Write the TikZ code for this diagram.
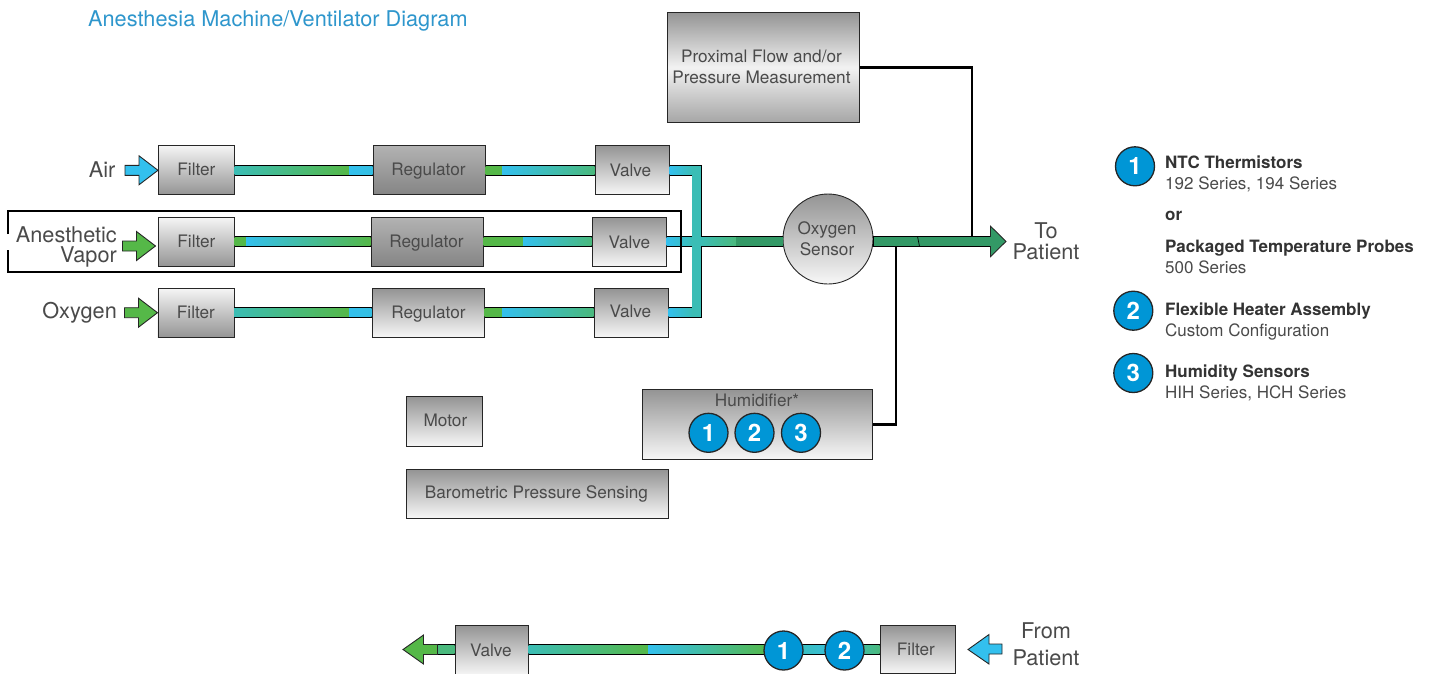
\documentclass[tikz,border=0pt]{standalone}
\usepackage{fontspec}
\setmainfont{TeX Gyre Heros}
\usetikzlibrary{calc}
\definecolor{txt}{HTML}{4A4A4A}
\definecolor{boldtxt}{HTML}{333333}
\definecolor{titleblue}{HTML}{2E96CC}
\definecolor{pgreen}{HTML}{55B848}
\definecolor{pblue}{HTML}{33C0EE}
\definecolor{pteal}{HTML}{3BBDB5}
\definecolor{pdark}{HTML}{339966}
\definecolor{pmid}{HTML}{4AB97D}
\definecolor{badge}{HTML}{0096D6}
\tikzset{
  x=1pt,y=-1pt,
  box/.style={draw=black!85,line width=.9pt,inner sep=0pt,anchor=north west},
  boxtext/.style={inner sep=0pt,align=center,text=txt,font=\fontsize{17.2}{21}\selectfont},
  darklight/.style={box,top color=black!42,bottom color=black!3},
  lightdark/.style={box,top color=black!4,bottom color=black!42},
  regdark/.style={box,top color=black!30,bottom color=black!48},
  proxbox/.style={box,top color=black!42,bottom color=black!35,middle color=black!5},
  pipeedge/.style={draw=black,line width=10.6pt},
  wire/.style={draw=black,line width=2.2pt},
  num/.style={circle,draw=black!85,line width=1.3pt,fill=badge,text=white,minimum size=39pt,inner sep=0pt,font=\fontsize{24}{24}\selectfont\bfseries},
  lab/.style={text=txt,font=\fontsize{21.7}{22}\selectfont,inner sep=0pt},
  leghead/.style={text=boldtxt,font=\fontsize{17}{18}\selectfont\bfseries,inner sep=0pt,anchor=base west},
  legsub/.style={text=txt,font=\fontsize{17}{18}\selectfont,inner sep=0pt,anchor=base west},
}
% \seg{x1}{x2}{y}{left colour}{right colour}
\newcommand{\seg}[5]{\shade[left color=#4,right color=#5] (#1,#3-4.2) rectangle (#2,#3+4.2);}
\newcommand{\arrowR}[3]{\draw[draw=black!85,line width=.9pt,fill=#3] (#1-33,#2-5) -- (#1-19,#2-5) -- (#1-19,#2-14.5) -- (#1,#2) -- (#1-19,#2+14.5) -- (#1-19,#2+5) -- (#1-33,#2+5) -- cycle;}
% \boxn{style}{name}{text}{x1}{x2}{y1}{y2}{dx}{dy}
\newcommand{\boxn}[9]{\node[#1,minimum width=#5pt-#4pt,minimum height=#7pt-#6pt] (#2) at (#4,#6) {};
  \node[boxtext] (#2t) at ($(#2.center)+(#8,#9)$) {#3};}
\begin{document}
\begin{tikzpicture}
\useasboundingbox (0,0) rectangle (1431,673);
\clip (0,0) rectangle (1431,673);
\node[anchor=base west,inner sep=0pt,text=titleblue,font=\fontsize{21.7}{22}\selectfont] (title) at (88,26.5) {Anesthesia Machine/Ventilator Diagram};

% boxes
\boxn{lightdark}{f1}{Filter}{158}{234}{145}{194}{0}{-1}
\boxn{regdark}{r1}{Regulator}{373}{485}{145}{194}{-1}{1}
\boxn{darklight}{v1}{Valve}{595}{669}{145}{194}{-2}{0}
\boxn{lightdark}{f2}{Filter}{158}{234}{217}{266}{0}{-1}
\boxn{regdark}{r2}{Regulator}{371}{483}{217}{266}{-1}{1}
\boxn{darklight}{v2}{Valve}{592}{666}{217}{266}{0}{0}
\boxn{lightdark}{f3}{Filter}{157.5}{233.5}{288}{337}{0}{-1}
\boxn{darklight}{r3}{Regulator}{372}{484}{288}{337}{0}{1}
\boxn{darklight}{v3}{Valve}{594}{668}{288}{337}{-1}{-2}
\boxn{proxbox}{prox}{Proximal Flow and/or\\Pressure Measurement}{667}{859}{12}{122}{-2}{-1}
\boxn{darklight}{motor}{Motor}{406}{482}{396}{446}{1}{-1}
\boxn{darklight}{baro}{Barometric Pressure Sensing}{406}{668}{469}{518}{-1}{0}
\boxn{darklight}{hum}{}{642}{872}{389}{459}{0}{0}
\boxn{darklight}{vout}{Valve}{455}{528}{625}{675}{-1}{0}
\boxn{darklight}{fout}{Filter}{880}{955}{625}{673}{-2}{0}
\node[circle,draw=black!85,line width=.9pt,top color=black!42,bottom color=black!3,minimum size=90pt,inner sep=0pt] (sensor) at (828,239) {};
\node[boxtext] (sensort) at (827,239) {Oxygen\\Sensor};
\node[boxtext] (humlab) at (757,400) {Humidifier*};

% row 1 pipes
\draw[pipeedge] (f1.east |- 0,170.3) -- (r1.west |- 0,170.3);
\draw[pipeedge] (r1.east |- 0,170.3) -- (v1.west |- 0,170.3);
\seg{234.5}{349}{170.3}{pteal}{pgreen}
\seg{349}{372.5}{170.3}{pblue}{pblue!80!pteal}
\seg{485.5}{502}{170.3}{pgreen}{pgreen}
\seg{502}{594.5}{170.3}{pblue}{pmid}
% row 2 pipes
\draw[pipeedge] (f2.east |- 0,241.4) -- (r2.west |- 0,241.4);
\draw[pipeedge] (r2.east |- 0,241.4) -- (v2.west |- 0,241.4);
\seg{234.5}{246}{241.4}{pgreen}{pgreen}
\seg{246}{370.5}{241.4}{pblue}{pgreen}
\seg{483.5}{523}{241.4}{pgreen}{pgreen}
\seg{523}{591.5}{241.4}{pblue}{pmid}
% row 3 pipes
\draw[pipeedge] (f3.east |- 0,312.7) -- (r3.west |- 0,312.7);
\draw[pipeedge] (r3.east |- 0,312.7) -- (v3.west |- 0,312.7);
\seg{234}{349}{312.7}{pteal}{pgreen}
\seg{349}{371.5}{312.7}{pblue}{pblue!80!pteal}
\seg{484.5}{502}{312.7}{pgreen}{pgreen}
\seg{502}{593.5}{312.7}{pblue}{pmid}

% manifold
\coordinate (mtop) at (697,170.3);
\coordinate (mbot) at (697,312.7);
\draw[pipeedge,line join=miter] (v1.east |- mtop) -- (mtop) -- (mbot) -- (v3.east |- mbot);
\draw[pipeedge] (v2.east |- 0,241.4) -- (sensor.west |- 0,241.4);
\seg{669.5}{692.5}{170.3}{pblue}{pteal}
\seg{668.5}{692.5}{312.7}{pblue}{pteal}
\seg{666.5}{692.5}{241.4}{pblue}{pteal}
\fill[pteal] (692.2,166.1) rectangle (701.4,316.9);
\seg{701}{736}{241.4}{pteal}{pmid}
\seg{736}{783}{241.4}{pdark}{pdark}

% vapour frame
\coordinate (fa) at (8,234);
\coordinate (fb) at (681,211);
\coordinate (fc) at (8,272);
\coordinate (fd) at (8,250);
\draw[draw=black,line width=2.6pt] (fa) |- (fb) |- (fc) -- (fd);

% output arrow
\coordinate (ptip) at (1006,241.4);
\draw[pipeedge] (sensor.east |- ptip) -- (991,241.4);
\fill[pdark] (873.5,237.2) rectangle (992,245.6);
\draw[draw=black!85,line width=.9pt,fill=pdark] (990.5,236.6) -- (990.5,226.2) -- (ptip) -- (990.5,256.6) -- (990.5,246.2);
\fill[pdark] (988,237.2) rectangle (991.5,245.6);
\draw[draw=black,line width=.7pt] (917.5,236.4) -- (919.5,246.4);
\coordinate (jtop) at (972,237);
\coordinate (jbot) at (896,246);
\draw[wire] (prox.east) -| (jtop);
\draw[wire] (hum.east) -| (jbot);

% input arrows
\arrowR{158}{170.3}{pblue}
\arrowR{155.5}{246}{pgreen}
\arrowR{157.5}{312.7}{pgreen}
\node[lab,anchor=base east] (air) at (115.5,177) {Air};
\node[lab,anchor=base east] (vap1) at (117,242) {Anesthetic};
\node[lab,anchor=base east] (vap2) at (117,262) {Vapor};
\node[lab,anchor=base east] (oxy) at (117,318.5) {Oxygen};
\node[lab] (to) at (1046,231) {To};
\node[lab] (pat) at (1046,252) {Patient};

% return line
\draw[pipeedge] (vout.east |- 0,649.5) -- (fout.west |- 0,649.5);
\draw[pipeedge] (vout.west |- 0,649.5) -- (437,649.5);
\seg{437}{454.5}{649.5}{pmid}{pmid}
\seg{528.5}{648}{649.5}{pteal}{pgreen}
\seg{648}{770}{649.5}{pblue}{pgreen}
\seg{790}{835}{649.5}{pteal}{pblue!70!pteal}
\seg{850}{879.5}{649.5}{pteal}{pmid}
\draw[draw=black!85,line width=.9pt,fill=pgreen] (437.5,644.5) -- (423.5,644.5) -- (423.5,635) -- (403,649.5) -- (423.5,664) -- (423.5,654.5) -- (437.5,654.5) -- cycle;
\draw[draw=black!85,line width=.9pt,fill=pblue] (1002,644) -- (989,644) -- (989,634.5) -- (968,649.5) -- (989,664) -- (989,654) -- (1002,654) -- cycle;
\node[lab] (from1) at (1046,631) {From};
\node[lab] (from2) at (1046,658) {Patient};
\node[num] (n1) at (783.5,650.5) {1};
\node[num] (n2) at (844.5,650.5) {2};

% humidifier badges
\node[num] (h1) at (708.5,432.8) {1};
\node[num] (h2) at (754.5,432.8) {2};
\node[num] (h3) at (801,432.8) {3};

% legend
\node[num] (l1) at (1135,166.3) {1};
\node[num] (l2) at (1133.3,310.7) {2};
\node[num] (l3) at (1133.3,373) {3};
\node[leghead] (t1) at (1165,168) {NTC Thermistors};
\node[legsub] (s1) at (1165,189) {192 Series, 194 Series};
\node[leghead] (or) at (1165,220) {or};
\node[leghead] (t1b) at (1165,252) {Packaged Temperature Probes};
\node[legsub] (s1b) at (1165,273) {500 Series};
\node[leghead] (t2) at (1165,315) {Flexible Heater Assembly};
\node[legsub] (s2) at (1165,336) {Custom Configuration};
\node[leghead] (t3) at (1165,377) {Humidity Sensors};
\node[legsub] (s3) at (1165,398) {HIH Series, HCH Series};
\end{tikzpicture}
\end{document}
